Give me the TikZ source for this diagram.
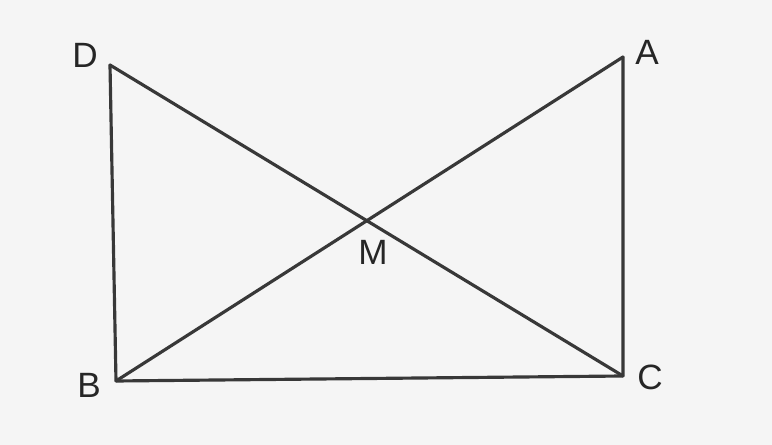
\documentclass[tikz,border=0pt]{standalone}
\usepackage{fontspec}
\setmainfont{Liberation Sans}
\usepackage{xcolor}
\usetikzlibrary{calc}

\begin{document}
\begin{tikzpicture}[x=0.02cm, y=-0.02cm, line join=round, line cap=round]

\tikzset{
    myline/.style={line width=1.8pt, draw=black!78},
    mylabel/.style={font=\fontsize{20}{24}\selectfont, text=black!85, inner sep=0pt}
}

% ── 背景 ──
\fill[black!4] (0,0) rectangle (772,445);
\useasboundingbox (0,0) rectangle (772,445);

% ── 顶点 ──
\coordinate (D) at (110,65);
\coordinate (A) at (623,57);
\coordinate (B) at (116,381);
\coordinate (C) at (623,376);
\coordinate (M) at (intersection of D--C and B--A);

% ── 标签 ──
\node[mylabel] (lD) at (85,55)   {D};
\node[mylabel] (lA) at (647,52)  {A};
\node[mylabel] (lB) at (89,385)  {B};
\node[mylabel] (lC) at (650,377) {C};
\node[mylabel] (lM) at (373,252) {M};

% ── 边 ──
\draw[myline] (D) -- (B) -- (C) -- (A);
\draw[myline] (D) -- (C);
\draw[myline] (B) -- (A);

\end{tikzpicture}
\end{document}
